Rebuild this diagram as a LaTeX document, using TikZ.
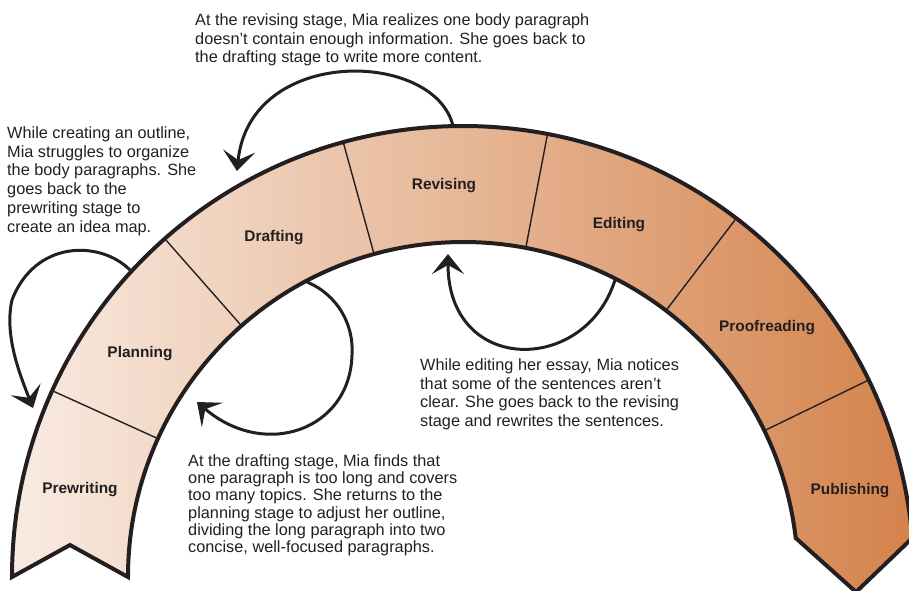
\documentclass[tikz,border=0pt]{standalone}
\usepackage{fontspec}
\setmainfont{Liberation Sans}
\usetikzlibrary{arrows.meta}
\definecolor{ink}{HTML}{231F20}
\definecolor{bandlight}{HTML}{F9EBE2}
\definecolor{banddark}{HTML}{D4834C}
\begin{document}
\begin{tikzpicture}[x=1pt,y=1pt,
  stagelabel/.style={font=\fontsize{15.4}{18}\selectfont\bfseries, text=ink, inner sep=0pt},
  note/.style={font=\fontsize{16.3}{18.8}\selectfont, text=ink, align=left, anchor=north west, inner sep=0pt},
  loop/.style={draw=ink, line width=3pt, -{Stealth[length=20pt,width=32pt,inset=9pt]}},
  divider/.style={draw=ink, line width=1.4pt},
]
\useasboundingbox (0,0) rectangle (909,-590);
\coordinate (c) at (463,-577);

% the curved ribbon of stages, swallowtail on the left, point on the right
\path[draw=ink, line width=4pt, line join=miter, left color=bandlight, right color=banddark]
  (12,-577) arc[start angle=180, end angle=4.96, radius=451pt]
  -- (856,-592) -- (795.7,-538)
  arc[start angle=6.69, end angle=180, radius=335pt]
  -- (70,-545) -- cycle;

% radial dividers between the stages
\begin{scope}[shift={(c)}]
  \foreach \a in {155.6,131.4,105.4,79.2,52.7,25.9}
    \draw[divider] (\a:335) -- (\a:451);
\end{scope}

% stage names
\node[stagelabel] (prewriting)  at (80,-490)  {Prewriting};
\node[stagelabel] (planning)    at (140,-354) {Planning};
\node[stagelabel] (drafting)    at (274,-238) {Drafting};
\node[stagelabel] (revising)    at (444,-186) {Revising};
\node[stagelabel] (editing)     at (619,-225) {Editing};
\node[stagelabel] (proofreading) at (767,-328) {Proofreading};
\node[stagelabel] (publishing)  at (850,-491) {Publishing};

% notes
\node[note] (noterev) at (195,-13.3) {At the revising stage, Mia realizes one body paragraph\\doesn’t contain enough information. She goes back to\\the drafting stage to write more content.};
\node[note] (noteplan) at (7,-126.3) {While creating an outline,\\Mia struggles to organize\\the body paragraphs. She\\goes back to the\\prewriting stage to\\create an idea map.};
\node[note, font=\fontsize{16.3}{17.3}\selectfont] (notedraft) at (188,-454.3) {At the drafting stage, Mia finds that\\one paragraph is too long and covers\\too many topics. She returns to the\\planning stage to adjust her outline,\\dividing the long paragraph into two\\concise, well-focused paragraphs.};
\node[note] (noteedit) at (420,-358.3) {While editing her essay, Mia notices\\that some of the sentences aren’t\\clear. She goes back to the revising\\stage and rewrites the sentences.};

% ends of the loop-back arrows
\coordinate (a1s) at (453,-126);
\coordinate (a1e) at (237,-171);
\coordinate (a2s) at (130,-270);
\coordinate (a2m) at (12,-300);
\coordinate (a2e) at (33,-408);
\coordinate (a3s) at (307,-282);
\coordinate (a3m) at (352,-355);
\coordinate (a3e) at (197,-402);
\coordinate (a4s) at (615,-280);
\coordinate (a4e) at (448,-254);

% loop-back arrows
\draw[loop] (a1s) .. controls (435,-50) and (250,-45) .. (a1e);
\draw[loop] (a2s) .. controls (100,-240) and (35,-240) .. (a2m)
               .. controls (4,-335) and (20,-375) .. (a2e);
\draw[loop] (a3s) .. controls (338,-295) and (354,-325) .. (a3m)
               .. controls (350,-430) and (265,-460) .. (a3e);
\draw[loop] (a4s) .. controls (585,-375) and (448,-375) .. (a4e);
\end{tikzpicture}
\end{document}
